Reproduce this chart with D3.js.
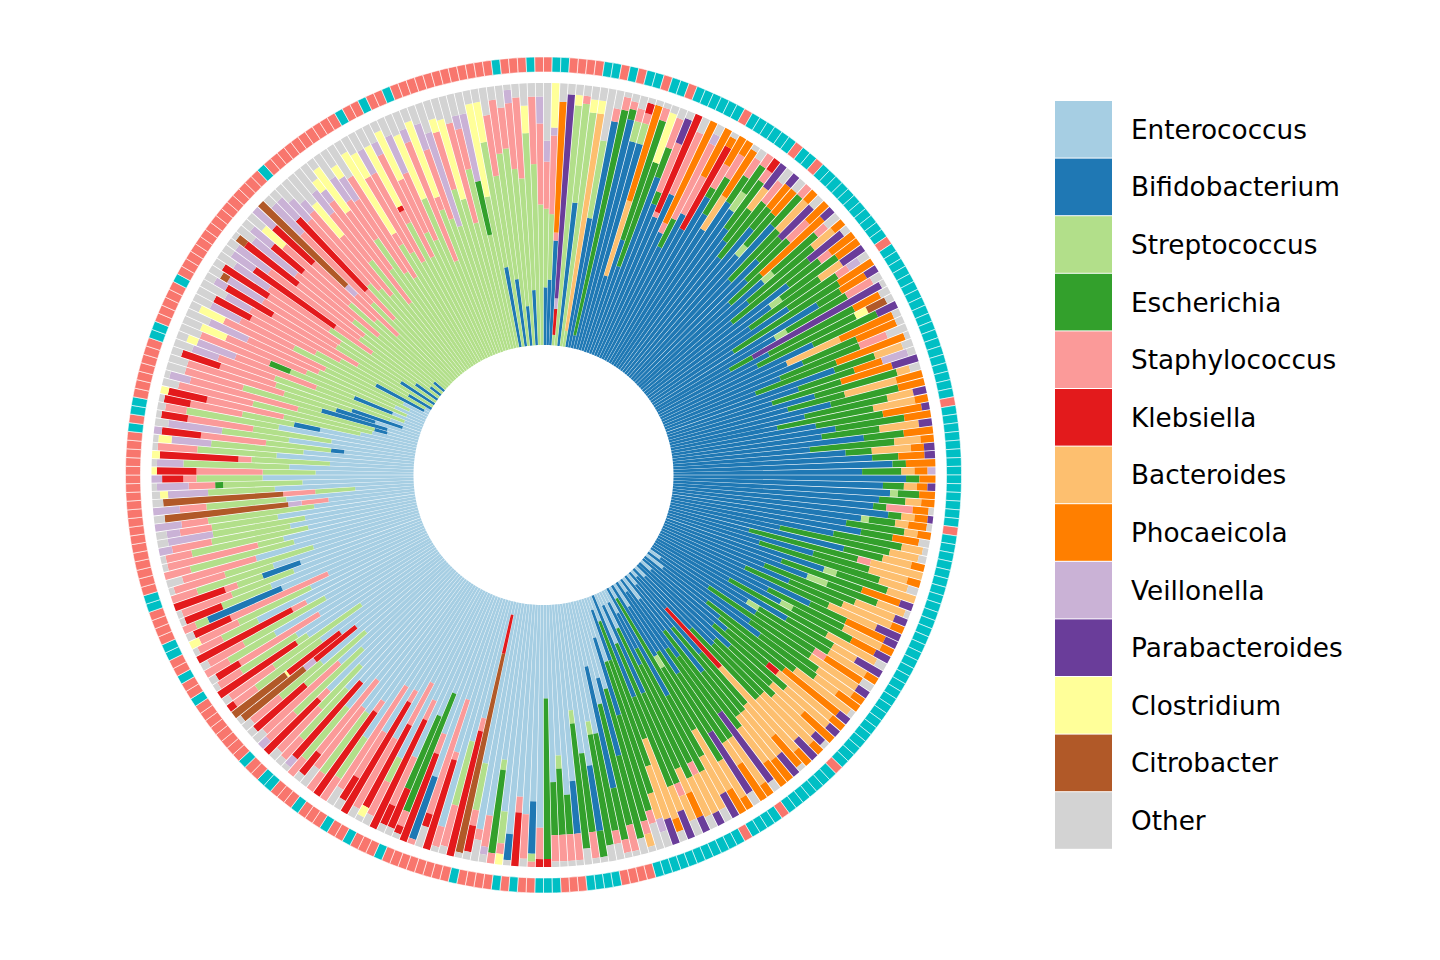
<!DOCTYPE html>
<html>
<head>
<meta charset="utf-8">
<script src="https://cdn.jsdelivr.net/npm/d3@7"></script>
<style>
  html, body { margin: 0; padding: 0; background: #fff; }
  svg { display: block; }
</style>
</head>
<body>
<svg id="chart" width="1440" height="960"></svg>
<script>
// Genera (stack order from inner to outer) and their legend colours
const genera = ["Enterococcus","Bifidobacterium","Streptococcus","Escherichia","Staphylococcus","Klebsiella","Bacteroides","Phocaeicola","Veillonella","Parabacteroides","Clostridium","Citrobacter","Other"];
const generaCodes = ["e","b","s","x","a","k","d","p","v","r","c","t","o"];
const generaColors = ["#A6CEE3","#1F78B4","#B2DF8A","#33A02C","#FB9A99","#E31A1C","#FDBF6F","#FF7F00","#CAB2D6","#6A3D9A","#FFFF99","#B15928","#D3D3D3"];

// Per-sample relative abundances (%), clockwise from 12 o'clock
const samples = [
"b22 s30 a18 v8 o22","b25 s25 a30 v3 c17","b40 a3 p50 o7","s4 k10 r78 v4 o4","s92 c4 o4","b55 s38 a3 o4","c5 s90 o5","s6 d84 c5 o5","b50 s30 o20","b88 a5 o7",
"b5 x88 a5 o2","b90 x4 a3 o3","b82 s8 a5 o5","b82 s8 a4 k4 o2","b30 d30 p38 o2","b45 x48 a5 o2","b35 x42 c20 o3","b72 x12 a12 o4","b62 x5 a20 r10 o3","b57 k40 a2",
"b68 a26 o6","b52 p42 a4","b48 x12 a32 v4 o4","b62 a16 p20","b58 k36 p4 o2","b72 x4 a10 p12","b66 x16 a10 p6","b62 d15 p21 o2","b76 x12 a8 o4","b72 s8 x12 a5",
"b66 x22 a5 k5","b62 x15 d10 r11","b57 x27 a10 o6","b72 x10 p11 r5","b62 s5 x16 p12 o5","b78 x15 a5","b52 x26 d15 p5","b66 x12 r17 o5","b57 x22 a10 p10","b46 x16 p31 r5",
"b62 s5 x22 a5 o6","b52 x32 d10 p5","b42 x37 r16 o3","b67 x15 a5 p11","b57 s5 x26 p10","b46 x32 d10 r10","b62 x22 a5 v5 o4","b36 x47 p15","b72 x10 p11 r5","b52 s5 x26 a11 o4",
"b32 x10 r56 o2","b47 x36 p11 o4","b42 x42 c5 t8 o3","b62 x26 r8","b52 d22 p22 o3","b57 x22 p16 o3","b47 x32 a11 o8","b36 x32 p27 o2","b67 x16 d11 o4","b52 x22 v10 p11 o3",
"b41 x27 p20 r10","b57 x32 d5 o4","b46 x22 d20 p10","b62 x26 p10","b52 x32 d10 r5","b41 x37 d16 p5","b56 x26 p15 r3","b62 x26 p10","b57 x22 d15 r5","b72 x15 p11",
"b52 x32 d10 p5","b66 x10 d15 p5 r4","b76 x10 p10 r4","b82 x5 p11","b72 x15 d5 p5 v3","b87 x5 p6","b80 x8 d5 p4 r3","b82 s3 x8 p6","b78 x10 d6 p5","b76 x5 a10 p6 o2",
"b82 x5 d5 p5 r2","b72 s3 x10 d5 p7 o2","b66 x22 d5 p5","b72 x12 p10 o4","b62 x26 d8 o2","b42 x42 d11 o3","b67 x15 d11 p5","b31 x42 d20 a5","b57 x22 d15 p5","b36 x47 d11 o4",
"b62 s5 x20 d11","b46 x32 p15 r5","b57 s8 x20 d11 o2","b41 x37 d16 r5","b52 x22 d20 p5","b35 x35 d20 r10","b62 x15 p16 r5","b46 x32 d16 p5","b52 s5 x25 p10 r6","b31 x42 d21 o4",
"b57 x20 d10 r11","b41 s5 x31 d16 p5","b46 x26 a5 p16 o5","b26 x46 d21 r5","e5 b41 x31 d16 p5","b52 x26 d10 p10","e8 b21 x42 d26 o2","b36 x31 p26 r5","b41 x20 k5 d26 p6","e5 b31 x36 d21 r5",
"b46 x21 d16 p15","b41 x31 d21 r5 o2","e5 b36 x26 d26 p5","b31 x36 d21 r10","e3 b16 k30 d42 p7","b41 x26 d16 p15 o2","e5 b21 x41 d21 r10","b46 x21 d21 p10","e10 b15 x46 d16 p11","b36 x26 r32 o4",
"e5 b26 x41 d21 p5","b41 x31 d10 p16","e10 b20 x36 r27 o5","b31 s5 x41 d16 p5","e5 x57 d26 p10","b46 x26 d16 r10","e10 b15 x52 d16 o5","e5 b26 x41 d16 a5 r5","e15 x62 d16 o5","e5 b36 x31 d10 p10 r6",
"e20 x57 d10 a5 o6","b41 x36 d10 r11","e10 x47 d32 p5 o4","e5 b20 x42 d21 r10","e25 x52 v5 d10 o6","e15 b30 x37 a5 o10","e35 x52 d5 a5 o2","e30 b30 x32 o6","e40 x47 a10 o2","e25 b47 x20 a5 o2",
"e50 x37 a5 o6","e45 s5 x42 o6","e62 b25 x10 o2","e57 x30 a10 o2","e40 s5 x47 o6","e67 b20 a10 o2","e72 x15 a10 o2","e57 s5 x25 a10 o2","e67 x20 a10 o2","e35 x60 k3",
"e85 a12 k3","e75 b20 s3 a2","e80 a17 o3","e72 k20 a6","e88 b10 o2","e78 s12 c4 a4","e60 x32 s4 a4","e82 a12 v3 o3","e86 a4 o8","e62 s18 k10 a6 o3",
"e5 k15 t77 o2","e45 k48 a5","e55 s25 a16 o3","e90 a8 o2","e60 k35 a3","e40 k5 a45 o8","e72 b25 a2","e55 k35 a8","e40 x48 a6 k3 o2","e50 x30 k16 o3",
"e68 a20 k8 o3","e45 k45 a8","e70 s10 a14 o4","e40 k35 a18 c4 o2","e65 a30 o4","e45 k48 a5","e65 a20 k10 o4","e45 a45 o7","e70 s18 a10","e55 k38 a5",
"e62 s28 a8","e60 a28 o8","e50 a35 k10 o3","e65 s25 a8","e55 k38 v4 o2","e60 s25 a10 o3","e50 s22 a22 o4","e65 k28 a5","e45 s35 a14 v4","e55 a38 o5",
"e40 s30 k25 o3","e60 s20 a14 o4","e42 k20 t30 v5 o2","e48 k25 t25 c1","e55 s30 a10 k3","e35 s40 a20 o3","e58 k35 s5","e62 s25 a10 o2","e50 a35 k10 o3","e68 s20 a10",
"e45 s35 a15 o3","e52 k40 a6","e72 s15 a10 o2","e48 s30 a16 c4","e40 a40 k15 o3","e58 b30 s5 a5","e62 s20 k15 o2","e52 s25 a20 o2","e48 b15 s10 k20 a5","e58 s30 a10",
"e42 s35 a20 o2","e62 a28 o6","e48 s40 a10","e52 s10 a35 o2","e42 s45 a10 o2","e48 s30 a15 v5","e42 s35 v17 o4","e52 s25 a12 v5 o4","e38 s40 a10 v10","e32 a10 v5 t46 o4",
"e48 s30 a10 v10","e22 s15 a12 t45 o4","e52 s25 v15 c3 o3","e42 s30 x3 a10 v12 o2","e57 s25 a5 k8 v4","e37 s20 a25 k15 c2","e47 s40 v10 o2","e32 s30 a5 k30 c3","e52 s30 a15 o2","e42 s35 v15 c5 o2",
"e27 b5 s25 a25 k15 v3","e47 s25 v20 o5","e32 s30 a25 k10 o2","e52 s35 a8 o3","e37 b10 s20 a20 k10 o2","e22 s30 a30 k15 c3","e17 s45 a28 o6","e12 b5 s30 a42 v8 o2","e12 b25 s30 a22 o7","e17 b15 s20 a37 o7",
"e7 b20 s30 a22 k15 o4","e12 s45 a22 v10 o7","e7 s35 a32 v15 c4 o4","e12 b15 s25 x8 a27 o8","e7 s40 a32 c10 o7","e12 s30 a28 v15 o9","e7 s35 a42 c10 o4","e10 s45 a22 v12 o7","e2 b20 s25 a27 k15 o7","e2 s35 a37 v10 o10",
"b10 s22 a37 k20 v5 o4","s42 a32 v15 t3 o5","b15 s27 a32 k20 o4","s47 a27 v15 o7","b10 s20 a17 k37 v10 o4","s37 a42 v15 o4","b5 s32 a32 k25 t4 o2","s42 a27 v20 o7","b5 s27 a37 k15 v10 o4","s47 a32 c10 o7",
"s37 a32 k20 v10","s27 a22 v5 t45","s42 a37 v15 o4","s32 a15 k37 v10 o4","s47 a32 v10 o7","s42 a37 v5 o10","s37 a27 c15 o13","s52 a22 v10 o10","s32 a47 v5 c5 o7","s47 a27 c20 o4",
"s57 a17 v10 o10","s42 a32 v10 c5 o7","s37 a42 o13","s52 a5 c35 o5","s47 a32 c10 o7","s42 a37 v10 o7","s57 a5 k2 c25 o7","s42 a42 v5 o7","s52 a22 c20 o4","s47 a27 v15 o7",
"s62 c25 o8","s37 a47 v5 o7","s57 a5 c30 o5","s52 a27 v10 o7","s47 v35 o11","s62 a22 c5 o7","s57 c30 o8","s47 a37 o10","s67 a15 v5 o8","s42 x20 v25 o8",
"s57 c35 o5","b30 s47 c15 o5","s62 a22 o10","b25 s47 a20 o5","s72 a15 o8","b15 s52 a25 v5 o2","s62 a30 o5","b20 s57 c10 o8","s67 a25 o5","s52 a30 v10 o5"
];

// Sample group (outer ring), same order as samples: A = salmon group, B = teal group
const groups = ("ABBAAAABBA" + "BABBABBABB" + "BBBBABBBBB" + "BABBABBBBB" + "BBBBBBABBB" +
  "BBBBBBBBBB" + "BBBBBBABBB" + "BBBBBBBBBB" + "BABBBBBBBB" + "BBBBBBBBBB" +
  "BBBBBBBBBB" + "BBABBBBBBB" + "ABBBBABBBB" + "BBBBBBBAAA" + "ABBBBAAABB" +
  "BAABABAAAA" + "BAAAAAAAAB" + "AAABAABAAA" + "BAAABBAABA" + "AAAAAAABAA" +
  "BAABBAAAAB" + "BAAAAAAAAA" + "AAAAAAAAAA" + "BABBAAAAAA" + "ABBAAAAABA" +
  "AAAAAAAAAA" + "AAAABAAAAA" + "AAAAABAABA" + "ABAAAAAAAA" + "AAAABAAABA").split("");
const groupNames = ["A","B"];
const groupColors = ["#F8766D","#00BFC4"];

// ---------- drawing ----------
const svg = d3.select("#chart");
const cx = 543.5, cy = 475;
const innerR = 130, outerR = 392;
const ringIn = 403, ringOut = 418;

const ids = samples.map((d, i) => i);
const x = d3.scaleBand().domain(ids).range([0, 2 * Math.PI]).paddingInner(0.1).paddingOuter(0.05);
const xt = d3.scaleBand().domain(ids).range([0, 2 * Math.PI]).padding(0);
const y = d3.scaleLinear().domain([0, 1]).range([innerR, outerR]);
const color = d3.scaleOrdinal().domain(genera).range(generaColors);
const gColor = d3.scaleOrdinal().domain(groupNames).range(groupColors);

// parse samples into rows of values per genus
const rows = samples.map((s, i) => {
  const vals = {};
  genera.forEach(g => vals[g] = 0);
  s.trim().split(/\s+/).forEach(tok => {
    const gi = generaCodes.indexOf(tok[0]);
    vals[genera[gi]] += +tok.slice(1);
  });
  const tot = d3.sum(genera, g => vals[g]);
  const row = { id: i };
  genera.forEach(g => row[g] = vals[g] / tot);
  return row;
});

const series = d3.stack().keys(genera)(rows);

const g = svg.append("g").attr("transform", `translate(${cx},${cy})`);
const arc = d3.arc();

series.forEach(ser => {
  g.append("g").selectAll("path")
    .data(ser.filter(d => d[1] - d[0] > 1e-6))
    .join("path")
    .attr("fill", color(ser.key))
    .attr("d", d => arc({
      innerRadius: y(d[0]),
      outerRadius: y(d[1]),
      startAngle: x(d.data.id),
      endAngle: x(d.data.id) + x.bandwidth()
    }));
});

// outer group ring
g.append("g").selectAll("path")
  .data(ids)
  .join("path")
  .attr("fill", i => gColor(groups[i]))
  .attr("stroke", "#fff")
  .attr("stroke-width", 0.6)
  .attr("d", i => arc({
    innerRadius: ringIn,
    outerRadius: ringOut,
    startAngle: xt(i),
    endAngle: xt(i) + xt.bandwidth()
  }));

// legend
const legend = svg.append("g").attr("transform", "translate(1055,101)");
const rowH = 57.6;
const items = legend.selectAll("g").data(genera).join("g")
  .attr("transform", (d, i) => `translate(0,${i * rowH})`);
items.append("rect")
  .attr("width", 57).attr("height", rowH - 1)
  .attr("fill", d => color(d));
items.append("text")
  .attr("x", 76).attr("y", rowH / 2 + 9)
  .attr("font-family", "DejaVu Sans, sans-serif")
  .attr("font-size", 26.3)
  .attr("fill", "#000")
  .text(d => d);
</script>
</body>
</html>
